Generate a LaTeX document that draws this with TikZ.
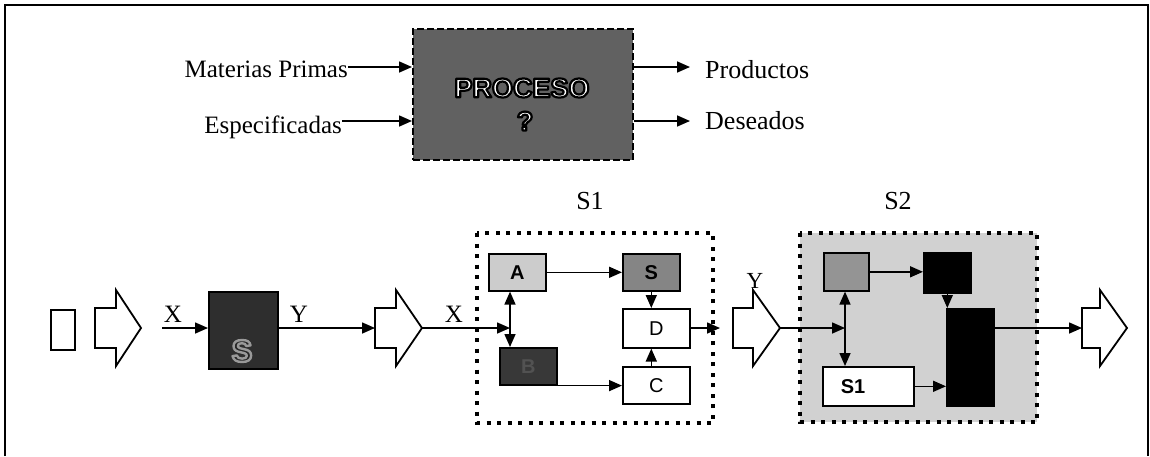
\documentclass[tikz,border=0pt]{standalone}
\usepackage{fontspec}
\setmainfont{Liberation Serif}
\newfontfamily\arialf{Liberation Sans}
\usetikzlibrary{arrows.meta,calc}
% outlined text via PDF text render mode: #1 stroke gray, #2 fill gray, #3 stroke width, #4 text
\newcommand\outlined[4]{%
  \special{pdf:literal direct q #2 g #1 G 2 Tr #3 w 1 j}#4\special{pdf:literal direct Q}}
\tikzset{
  lbl/.style={font=\fontsize{25}{30}\selectfont, inner sep=0pt},
  boxst/.style={draw, line width=1.6pt, inner sep=0pt, anchor=north west},
  inlbl/.style={font=\arialf\fontsize{20}{24}\selectfont},
  inbold/.style={font=\arialf\bfseries\fontsize{20}{24}\selectfont},
  conn/.style={line width=1.6pt, -{Triangle[length=13pt,width=11pt]}},
  dconn/.style={line width=1.6pt, {Triangle[length=13pt,width=11pt]}-{Triangle[length=13pt,width=11pt]}},
  barrow/.style={line width=1.8pt, fill=white},
  frame/.style={line width=4pt, dash pattern=on 4pt off 6.5pt},
}
\begin{document}
\begin{tikzpicture}[x=1pt,y=-1pt]
\useasboundingbox (0,0) rectangle (1150,456);
% outer frame
\draw[line width=2pt] (5,456) -- (5,5) -- (1148,5) -- (1148,456);

% ---- top: process ----
\node[boxst, fill=black!62, dash pattern=on 7pt off 3pt, minimum width=220pt, minimum height=131pt] (P) at (412,28) {};
\node[font=\arialf\bfseries\fontsize{27}{30}\selectfont, inner sep=0pt] (ptxt) at (522,88) {\outlined{0}{1}{2.2}{PROCESO}};
\node[font=\arialf\bfseries\fontsize{27}{30}\selectfont, inner sep=0pt] (qtxt) at (525,121) {\outlined{0}{1}{2.2}{?}};

\node[lbl, anchor=base east] (mp) at (348,77) {Materias Primas};
\node[lbl, anchor=base east] (es) at (342,133) {Especificadas};
\node[lbl, anchor=base west, font=\fontsize{26}{30}\selectfont] (pr) at (705,78) {Productos};
\node[lbl, anchor=base west, font=\fontsize{26}{30}\selectfont] (de) at (705,129) {Deseados};
\coordinate (mpa) at (348,67);
\coordinate (esa) at (342,121);
\coordinate (pra) at (690,67);
\coordinate (dea) at (690,121);
\draw[conn] (mpa) -- (mpa -| P.west);
\draw[conn] (esa) -- (esa -| P.west);
\draw[conn] (pra -| P.east) -- (pra);
\draw[conn] (dea -| P.east) -- (dea);

% ---- bottom row ----
\node[boxst, minimum width=24pt, minimum height=40pt] (sr) at (50,309) {};
\draw[barrow] (95,308) -- (116,308) -- (116,290) -- (141,328) -- (116,366) -- (116,348) -- (95,348) -- cycle;
\draw[barrow] (375,308) -- (396,308) -- (396,290) -- (422,328) -- (396,366) -- (396,348) -- (375,348) -- cycle;
\draw[barrow] (733,308) -- (753,308) -- (753,290) -- (780,328) -- (753,366) -- (753,348) -- (733,348) -- cycle;
\draw[barrow] (1082,308) -- (1100,308) -- (1100,290) -- (1127,328) -- (1100,366) -- (1100,348) -- (1082,348) -- cycle;
\coordinate (tail2) at (375,328);
\coordinate (tip2) at (422,328);
\coordinate (tip3) at (780,328);
\coordinate (tail4) at (1082,328);
\coordinate (xin) at (162,328);

\node[boxst, fill=black!82, minimum width=69pt, minimum height=77pt] (Sx) at (208,291) {};
\node[font=\arialf\bfseries\fontsize{31}{34}\selectfont, inner sep=0pt] (Sxt) at (242,351) {\outlined{0.6}{0.15}{2.4}{S}};
\node[lbl] (X1) at (173,314) {X};
\node[lbl] (Y1) at (299,314) {Y};
\draw[conn] (xin) -- (xin -| Sx.west);
\draw[conn] (tail2 -| Sx.east) -- (tail2);

% ---- S1 ----
\node[lbl, font=\fontsize{26}{30}\selectfont] (S1lab) at (590,201) {S1};
\draw[frame] (477,233) rectangle (713,423);
\node[boxst, fill=black!20, minimum width=57pt, minimum height=37pt, inbold] (A) at (488,253) {A};
\node[boxst, fill=black!48, minimum width=57pt, minimum height=37pt, inbold] (Sb) at (622,253) {S};
\node[boxst, fill=white, minimum width=67pt, minimum height=39pt, inlbl] (D) at (622,308) {D};
\node[boxst, fill=black!78, minimum width=57pt, minimum height=37pt, text=black!68, inbold] (B) at (499,347) {B};
\node[boxst, fill=white, minimum width=67pt, minimum height=37pt, inlbl] (C) at (622,366) {C};
\node[lbl] (X2) at (454,314) {X};
\coordinate (j1) at (510,328);
\coordinate (o1) at (720,328);
\draw[conn] (tip2) -- (j1);
\draw[dconn] (A.south -| j1) -- (B.north -| j1);
\draw[conn] (A.east) -- (A.east -| Sb.west);
\draw[conn] (Sb.south) -- (Sb.south |- D.north);
\draw[conn] (B.south east) -- (B.south east -| C.west);
\draw[conn] (C.north -| Sb.south) -- (D.south -| Sb.south);
\draw[conn] (D.east |- o1) -- (o1);

% ---- S2 ----
\node[lbl, font=\fontsize{26}{30}\selectfont] (S2lab) at (898,201) {S2};
\draw[frame, fill=black!18] (800,233) rectangle (1037,422);
\node[boxst, fill=black!42, minimum width=45pt, minimum height=38pt] (L) at (823,252) {};
\node[boxst, fill=black, minimum width=47pt, minimum height=40pt] (K) at (923,252) {};
\node[boxst, fill=black, minimum width=47pt, minimum height=97pt] (Big) at (946,308) {};
\node[boxst, fill=white, minimum width=91pt, minimum height=39pt, font=\arialf\bfseries\fontsize{20}{24}\selectfont, text width=91pt, align=left] (S1b) at (822,366) {\hspace*{18pt}S1};
\node[lbl, font=\fontsize{23}{28}\selectfont] (Y3) at (755,281) {Y};
\coordinate (j2) at (845,328);
\draw[conn] (tip3) -- (j2);
\draw[dconn] (L.south -| j2) -- (S1b.north -| j2);
\draw[conn] (L.east) -- (L.east -| K.west);
\draw[conn] (K.south) -- (K.south |- Big.north);
\draw[conn] (S1b.east) -- (S1b.east -| Big.west);
\draw[conn] (Big.east |- tail4) -- (tail4);
\end{tikzpicture}
\end{document}
